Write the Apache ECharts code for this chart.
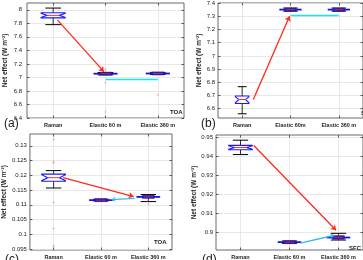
<!DOCTYPE html>
<html><head><meta charset="utf-8">
<script src="https://cdn.jsdelivr.net/npm/echarts@6/dist/echarts.min.js"></script>
<style>html,body{margin:0;padding:0;background:#fff}#c{width:363px;height:260px}</style>
</head><body><div id="c"></div><script>
// ---------- data ----------
const catsA = ['Raman', 'Elastic 60 m', 'Elastic 360 m'];
const catsB = ['Raman', 'Elastic 60m', 'Elastic 360 m'];
const catsC = ['Raman', 'Elastic 60 m', 'Elastic 360 m'];
const catsD = ['Raman', 'Elastic 60 m', 'Elastic 360 m'];

// [low whisker, q1, median, q3, high whisker, notch low, notch high]
const boxA = [
  [7.78, 7.88, 7.917, 7.955, 8.025, 7.888, 7.948],
  [7.038, 7.045, 7.055, 7.066, 7.072, 7.05, 7.06],
  [7.045, 7.05, 7.058, 7.067, 7.074, 7.053, 7.063]
];
const boxB = [
  [6.562, 6.64, 6.67, 6.696, 6.767, 6.645, 6.69],
  [7.338, 7.342, 7.35, 7.358, 7.362, 7.345, 7.355],
  [7.338, 7.342, 7.35, 7.358, 7.362, 7.345, 7.355]
];
const boxC = [
  [0.1157, 0.118, 0.1192, 0.1204, 0.1216, 0.1182, 0.1202],
  [0.1113, 0.1114, 0.1116, 0.1118, 0.1119, 0.1115, 0.1117],
  [0.1111, 0.1122, 0.1127, 0.1133, 0.1135, 0.1124, 0.1130]
];
const boxD = [
  [0.9408, 0.9433, 0.9445, 0.9456, 0.9483, 0.9436, 0.9453],
  [0.8945, 0.8947, 0.8951, 0.8955, 0.8957, 0.8949, 0.8953],
  [0.8962, 0.8966, 0.8975, 0.8985, 0.8997, 0.8969, 0.8981]
];

// outliers [category position, value]
const outA = [[2, 7.12], [2, 6.92], [2, 6.49], [3, 6.74]];
const outB = [];
const outC = [[1, 0.1322], [1, 0.1246], [1, 0.1242], [1, 0.1108], [1, 0.1019], [1, 0.0961], [3, 0.1103]];
const outD = [];

// arrows [start, end]
const redA = [[1.08, 7.85], [1.97, 7.085]];
const cyanA = [[2.0, 6.967], [3.0, 6.967]];
const redB = [[1.23, 6.67], [1.98, 7.30]];
const cyanB = [[2.0, 7.31], [3.0, 7.31]];
const redC = [[1.2, 0.1192], [2.69, 0.1128]];
const cyanC = [[2.71, 0.1122], [2.22, 0.1118]];
const redD = [[1.27, 0.9455], [2.95, 0.9013]];
const cyanD = [[2.22, 0.8946], [2.92, 0.8987]];

const yTicksA = [6.4, 6.6, 6.8, 7, 7.2, 7.4, 7.6, 7.8, 8];
const yTicksB = [6.6, 6.7, 6.8, 6.9, 7, 7.1, 7.2, 7.3, 7.4];
const yTicksC = [0.095, 0.1, 0.105, 0.11, 0.115, 0.12, 0.125, 0.13];
const yTicksD = [0.9, 0.91, 0.92, 0.93, 0.94, 0.95];
const xTicks = [1, 2, 3];

const yTitle = 'Net effect (W m\u207B\u00B2)';

// ---------- layout ----------
const panels = [
  {grid: {left: 27, top: 3, width: 157, height: 115}, ymin: 6.4, ymax: 8.1, ticks: yTicksA, cats: catsA, box: boxA, out: outA, red: redA, cyan: cyanA, cyanArrow: false, lm: 5, gap: 18, bw: [0.23, 0.23, 0.23]},
  {grid: {left: 218, top: 3, width: 156, height: 115}, ymin: 6.53, ymax: 7.4, ticks: yTicksB, cats: catsB, box: boxB, out: outB, red: redB, cyan: cyanB, cyanArrow: false, lm: 3, gap: 12, bw: [0.14, 0.23, 0.23]},
  {grid: {left: 27, top: 134, width: 145, height: 119}, ymin: 0.0947, ymax: 0.134, ticks: yTicksC, cats: catsC, box: boxC, out: outC, red: redC, cyan: cyanC, cyanArrow: true, lm: 3, gap: 18, bw: [0.25, 0.25, 0.25]},
  {grid: {left: 216, top: 135, width: 150, height: 119}, ymin: 0.891, ymax: 0.951, ticks: yTicksD, cats: catsD, box: boxD, out: outD, red: redD, cyan: cyanD, cyanArrow: true, lm: 3, gap: 14, bw: [0.24, 0.24, 0.24]}
];

const FONT = 'Liberation Sans, Arial, sans-serif';
const grids = [], xAxes = [], yAxes = [], series = [];

function makeRender(bw) {
  return function (params, api) {
    const x = api.value(0);
    const lo = api.value(1), q1 = api.value(2), med = api.value(3), q3 = api.value(4), hi = api.value(5), nlo = api.value(6), nhi = api.value(7);
    const band = api.size([1, 0])[0];
    const w = band * bw[params.dataIndex];
    const P = v => api.coord([x, v]);
    const cx = P(med)[0];
    const yq1 = P(q1)[1], yq3 = P(q3)[1], ym = P(med)[1], ylo = P(lo)[1], yhi = P(hi)[1], ynlo = P(nlo)[1], ynhi = P(nhi)[1];
    const ch = [];
    const capW = w * 0.65;
    ch.push({type: 'line', shape: {x1: cx, y1: yq3, x2: cx, y2: yhi}, style: {stroke: '#000', lineWidth: 0.8}});
    ch.push({type: 'line', shape: {x1: cx, y1: yq1, x2: cx, y2: ylo}, style: {stroke: '#000', lineWidth: 0.8}});
    ch.push({type: 'line', shape: {x1: cx - capW, y1: yhi, x2: cx + capW, y2: yhi}, style: {stroke: '#000', lineWidth: 1}});
    ch.push({type: 'line', shape: {x1: cx - capW, y1: ylo, x2: cx + capW, y2: ylo}, style: {stroke: '#000', lineWidth: 1}});
    if (Math.abs(yq1 - yq3) < 4.3) {
      let top = Math.min(yq3, ym - 1.5), bot = Math.max(yq1, ym + 1.5);
      ch.push({type: 'rect', shape: {x: cx - w * 0.5, y: top, width: w * 1.0, height: bot - top}, style: {fill: '#5a2070', stroke: '#3a1a9a', lineWidth: 0.6}});
      ch.push({type: 'line', shape: {x1: cx - w, y1: ym, x2: cx + w, y2: ym}, style: {stroke: '#1414e6', lineWidth: 1.8}});
      ch.push({type: 'line', shape: {x1: cx - w * 0.4, y1: ym, x2: cx + w * 0.4, y2: ym}, style: {stroke: '#a0306a', lineWidth: 1}});
    } else {
      const pts = [[cx - w, yq3], [cx + w, yq3], [cx + w, ynhi], [cx + w * 0.5, ym], [cx + w, ynlo], [cx + w, yq1], [cx - w, yq1], [cx - w, ynlo], [cx - w * 0.5, ym], [cx - w, ynhi]];
      ch.push({type: 'polygon', shape: {points: pts}, style: {fill: 'rgba(255,255,255,0.9)', stroke: '#1a1aff', lineWidth: 1.1}});
      ch.push({type: 'line', shape: {x1: cx - w * 0.55, y1: ym, x2: cx + w * 0.55, y2: ym}, style: {stroke: '#ff3030', lineWidth: 1}});
    }
    return {type: 'group', children: ch};
  };
}

const plusPath = 'path://M-1,-0.18H1V0.18H-1Z M-0.18,-1H0.18V1H-0.18Z';

panels.forEach((p, i) => {
  grids.push(Object.assign({show: true, borderColor: '#444', borderWidth: 0.8, backgroundColor: '#fff'}, p.grid));
  const cats = p.cats;
  xAxes.push({
    type: 'value', gridIndex: i, min: 0.5, max: 3.5,
    axisLine: {show: false},
    axisTick: {show: true, inside: true, length: 2.5, customValues: xTicks, lineStyle: {color: '#333', width: 0.8}},
    axisLabel: {show: true, customValues: xTicks, formatter: v => cats[Math.round(v) - 1], fontSize: 5.5, fontWeight: 'bold', color: '#262626', margin: 4, fontFamily: FONT},
    splitLine: {show: true, lineStyle: {color: '#e2e2e2', width: 0.8}}
  });
  xAxes.push({
    type: 'value', gridIndex: i, min: 0.5, max: 3.5, position: 'top',
    axisLine: {show: false},
    axisTick: {show: true, inside: true, length: 2.5, customValues: xTicks, lineStyle: {color: '#333', width: 0.8}},
    axisLabel: {show: false}, splitLine: {show: false}
  });
  yAxes.push({
    type: 'value', gridIndex: i, min: p.ymin, max: p.ymax,
    name: yTitle, nameLocation: 'middle', nameGap: p.gap,
    nameTextStyle: {fontSize: 6.5, fontWeight: 'bold', color: '#262626', fontFamily: FONT},
    axisLine: {show: false},
    axisTick: {show: true, inside: true, length: 2.5, customValues: p.ticks, lineStyle: {color: '#333', width: 0.8}},
    axisLabel: {show: true, customValues: p.ticks, fontSize: 6, color: '#1a1a1a', margin: p.lm, fontFamily: FONT},
    splitLine: {show: true, lineStyle: {color: '#e2e2e2', width: 0.8}}
  });
  yAxes.push({
    type: 'value', gridIndex: i, min: p.ymin, max: p.ymax, position: 'right',
    axisLine: {show: false},
    axisTick: {show: true, inside: true, length: 2.5, customValues: p.ticks, lineStyle: {color: '#333', width: 0.8}},
    axisLabel: {show: false}, splitLine: {show: false}
  });
  const xi = i * 2, yi = i * 2;
  series.push({
    type: 'custom', xAxisIndex: xi, yAxisIndex: yi, renderItem: makeRender(p.bw), z: 3,
    data: p.box.map((b, k) => [k + 1].concat(b)), clip: false
  });
  if (p.out.length) {
    series.push({
      type: 'scatter', xAxisIndex: xi, yAxisIndex: yi, symbol: plusPath, symbolSize: 3, z: 2,
      itemStyle: {color: 'rgba(255,60,60,0.55)'}, data: p.out
    });
  }
  series.push({
    type: 'lines', coordinateSystem: 'cartesian2d', xAxisIndex: xi, yAxisIndex: yi, z: 5,
    symbol: ['none', 'arrow'], symbolSize: 5,
    lineStyle: {color: '#ff2a1a', width: 1.3, opacity: 1}, data: [{coords: p.red}]
  });
  series.push({
    type: 'lines', coordinateSystem: 'cartesian2d', xAxisIndex: xi, yAxisIndex: yi, z: 5,
    symbol: ['none', p.cyanArrow ? 'arrow' : 'none'], symbolSize: 4,
    lineStyle: {color: i < 2 ? '#10e8f8' : '#3ab8ee', width: 1.3, opacity: 1}, data: [{coords: p.cyan}]
  });
});

const txt = (t, l, tp, fs, fw) => ({type: 'text', left: l, top: tp, z: 100, style: {text: t, fontSize: fs, fontWeight: fw, fill: '#1a1a1a', fontFamily: FONT}});

const chart = echarts.init(document.getElementById('c'), null, {renderer: 'canvas'});
chart.setOption({
  animation: false,
  backgroundColor: '#fff',
  grid: grids, xAxis: xAxes, yAxis: yAxes, series: series,
  graphic: [
    txt('TOA', 170, 109, 6, 'bold'),
    txt('SFC', 361, 110, 6, 'bold'),
    txt('TOA', 154, 239, 6, 'bold'),
    txt('SFC', 349, 245, 6, 'bold'),
    txt('(a)', 4, 118, 12, 'normal'),
    txt('(b)', 201, 118, 12, 'normal'),
    txt('(c)', 5, 254, 12, 'normal'),
    txt('(d)', 202, 254, 12, 'normal')
  ]
});
</script></body></html>
